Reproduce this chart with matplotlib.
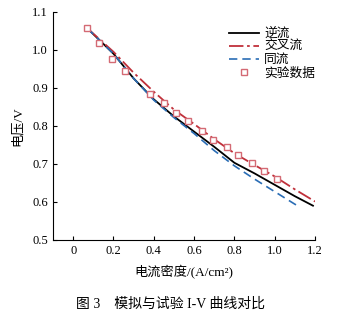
import matplotlib
matplotlib.use("Agg")
import matplotlib.pyplot as plt

plt.rcParams['font.family'] = ['Liberation Serif', 'Noto Sans CJK SC']

# 逆流
x_ni = [0.07, 0.2, 0.3, 0.4, 0.5, 0.6, 0.7, 0.8, 0.9, 1.0, 1.1, 1.19]
y_ni = [1.057, 0.99, 0.925, 0.87, 0.825, 0.785, 0.745, 0.703, 0.675, 0.645, 0.615, 0.59]

# 交叉流
x_jc = [0.07, 0.2, 0.3, 0.4, 0.5, 0.6, 0.7, 0.8, 0.9, 1.0, 1.1, 1.2]
y_jc = [1.057, 0.995, 0.94, 0.89, 0.843, 0.805, 0.765, 0.728, 0.697, 0.667, 0.633, 0.601]

# 同流
x_tl = [0.07, 0.2, 0.3, 0.4, 0.5, 0.6, 0.7, 0.8, 0.9, 1.0, 1.1, 1.126]
y_tl = [1.057, 0.99, 0.925, 0.868, 0.822, 0.78, 0.735, 0.695, 0.66, 0.627, 0.594, 0.586]

# 实验数据
x_exp = [0.071, 0.130, 0.191, 0.255, 0.381, 0.453, 0.511, 0.569, 0.638, 0.694,
         0.761, 0.819, 0.887, 0.946, 1.010]
y_exp = [1.058, 1.018, 0.977, 0.945, 0.885, 0.860, 0.835, 0.814, 0.786, 0.763,
         0.744, 0.723, 0.702, 0.682, 0.661]

fig = plt.figure(figsize=(3.42, 3.22), dpi=100)
ax = fig.add_axes([0.155, 0.255, 0.766, 0.708])

ax.plot(x_ni, y_ni, color='black', lw=1.3, label='逆流')
ax.plot(x_jc, y_jc, color='#c0303a', lw=1.3, dashes=(8, 2, 1.5, 2), label='交叉流')
ax.plot(x_tl, y_tl, color='#2a6db5', lw=1.2, dashes=(5, 3), label='同流')
ax.plot(x_exp, y_exp, ls='none', marker='s', ms=4.5, mfc='white',
        mec='#d46a74', mew=1.0, label='实验数据')

ax.set_xlim(-0.1, 1.2)
ax.set_ylim(0.5, 1.1)
ax.set_xticks([0, 0.2, 0.4, 0.6, 0.8, 1.0, 1.2])
ax.set_xticklabels(['0', '0.2', '0.4', '0.6', '0.8', '1.0', '1.2'])
ax.set_yticks([0.5, 0.6, 0.7, 0.8, 0.9, 1.0, 1.1])
ax.tick_params(direction='in', labelsize=9, length=3, width=0.8)
ax.spines['top'].set_visible(False)
ax.spines['right'].set_visible(False)

ax.set_xlabel('电流密度/(A/cm²)', fontsize=9.5, labelpad=6)
ax.set_ylabel('电压/V', fontsize=9.5, labelpad=6)

ax.legend(loc='upper left', bbox_to_anchor=(0.67, 0.93), frameon=False,
          fontsize=9.2, handlelength=2.4, labelspacing=0.08, handletextpad=0.4,
          borderaxespad=0.0, borderpad=0.0)

fig.text(0.5, 0.045, '图 3    模拟与试验 I-V 曲线对比', ha='center', fontsize=10)

fig.savefig('out.png', dpi=100)
